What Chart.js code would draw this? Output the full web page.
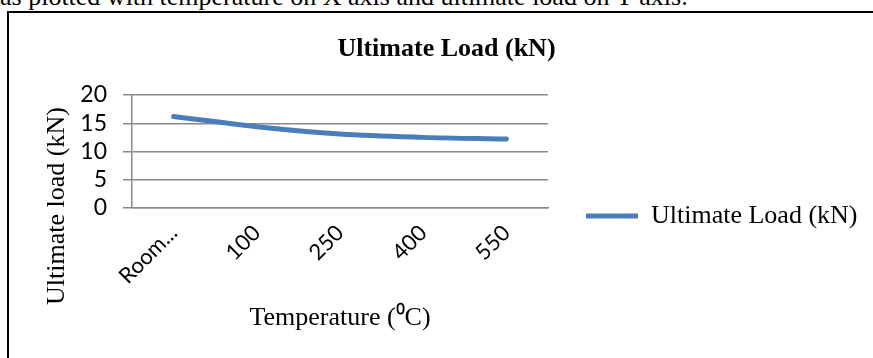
<!DOCTYPE html>
<html>
<head>
<meta charset="utf-8">
<script src="https://cdn.jsdelivr.net/npm/chart.js@4.4.0/dist/chart.umd.min.js"></script>
<style>
    html, body {
        margin: 0;
        padding: 0;
        width: 873px;
        height: 358px;
        overflow: hidden;
        background: #fff;
    }
    #caption {
        position: absolute;
        left: 0;
        top: -16px;
        font: 26px "Liberation Serif", "Times New Roman", serif;
        line-height: 26px;
        white-space: nowrap;
        color: #000;
    }
    #frame {
        position: absolute;
        left: 7px;
        top: 11px;
        width: 900px;
        height: 400px;
        border-top: 2px solid #000;
        border-left: 2px solid #000;
    }
    #wrap {
        position: absolute;
        left: 0;
        top: 0;
        width: 873px;
        height: 358px;
    }
    canvas {
        display: block;
    }
</style>
</head>
<body>
<div id="caption">as plotted with temperature on X axis and ultimate load on Y axis.</div>
<div id="frame"></div>
<div id="wrap"><canvas id="loadChart" width="873" height="358"></canvas></div>
<script>
const temperatures = ["Room Temperature", "100", "250", "400", "550"];
const ultimateLoad = [16.2, 14.4, 13.1, 12.5, 12.2];
const yTicks = [0, 5, 10, 15, 20];

const chartTitle = "Ultimate Load (kN)";
const seriesName = "Ultimate Load (kN)";
const xTitle = "Temperature (\u2070C)";
const yTitle = "Ultimate load (kN)";

const serif = "'Liberation Serif', 'Times New Roman', serif";
const sans = "Lato, 'Liberation Sans', sans-serif";
const gridColor = "#8a8a8a";

// y axis title sits lower than the plot centre, like in the original
const yTitlePlugin = {
    id: "yTitle",
    afterDraw(chart) {
        const ctx = chart.ctx;
        ctx.save();
        ctx.translate(57, 206);
        ctx.rotate(-Math.PI / 2);
        ctx.font = "26px " + serif;
        ctx.fillStyle = "#000";
        ctx.textAlign = "center";
        ctx.textBaseline = "middle";
        ctx.fillText(yTitle, 0, 0);
        ctx.restore();
    },
};

new Chart(document.getElementById("loadChart"), {
    type: "line",
    data: {
        labels: temperatures,
        datasets: [
            {
                label: seriesName,
                data: ultimateLoad,
                borderColor: "#4a7ebb",
                backgroundColor: "#4a7ebb",
                borderWidth: 5,
                borderCapStyle: "round",
                borderJoinStyle: "round",
                tension: 0.35,
                pointRadius: 0,
                pointHoverRadius: 0,
                fill: false,
            },
        ],
    },
    options: {
        responsive: false,
        animation: false,
        devicePixelRatio: 1,
        layout: {
            padding: { left: 25.5, right: 5.5, top: 0, bottom: 21 },
        },
        plugins: {
            title: {
                display: true,
                text: chartTitle,
                color: "#000",
                font: { family: serif, size: 26, weight: "bold" },
                padding: { top: 33.4, bottom: 30.4 },
            },
            legend: {
                position: "right",
                align: "center",
                maxWidth: 340,
                // empty title only pushes the single entry down to where Excel put it
                title: {
                    display: true,
                    text: "",
                    font: { family: serif, size: 26 },
                    padding: { top: 63.8, bottom: 0 },
                },
                labels: {
                    usePointStyle: true,
                    pointStyle: "line",
                    pointStyleWidth: 52,
                    padding: 38,
                    color: "#000",
                    font: { family: serif, size: 26 },
                },
            },
            tooltip: { enabled: false },
        },
        scales: {
            x: {
                offset: true,
                grid: { display: false },
                border: { display: true, color: gridColor, width: 1.5 },
                ticks: {
                    minRotation: 45,
                    maxRotation: 45,
                    autoSkip: false,
                    padding: 4,
                    color: "#000",
                    font: { family: sans, size: 22 },
                    callback(value, index) {
                        const label = temperatures[index];
                        return label.length > 6 ? label.slice(0, 4) + "..." : label;
                    },
                },
                title: {
                    display: true,
                    text: xTitle,
                    color: "#000",
                    font: { family: serif, size: 26 },
                    padding: { top: 0, bottom: 3.4 },
                },
                afterFit(scale) {
                    scale.height = 129;
                },
            },
            y: {
                min: 0,
                max: 20,
                afterBuildTicks(scale) {
                    scale.ticks = yTicks.map((v) => ({ value: v }));
                },
                grid: {
                    color: gridColor,
                    lineWidth: 1.5,
                    tickLength: 9,
                },
                border: { display: true, color: gridColor, width: 1.5 },
                ticks: {
                    autoSkip: false,
                    padding: 16,
                    color: "#000",
                    font: { family: sans, size: 23 },
                },
                afterFit(scale) {
                    scale.width = 106.5;
                },
            },
        },
    },
    plugins: [yTitlePlugin],
});
</script>
</body>
</html>
